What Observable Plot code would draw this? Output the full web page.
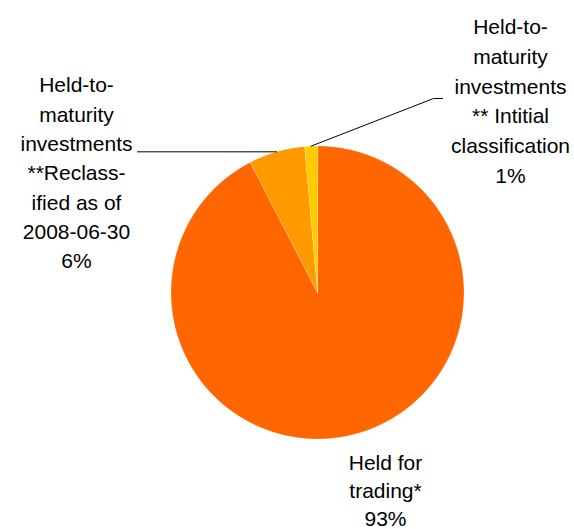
<!DOCTYPE html>
<html><head><meta charset="utf-8">
<script src="https://cdn.jsdelivr.net/npm/d3@7"></script>
<script src="https://cdn.jsdelivr.net/npm/@observablehq/plot@0.6"></script>
<style>body{margin:0;background:#fff;overflow:hidden}</style>
</head><body><div id="chart"></div>
<script>
// ---- data ----
const categories = [
  "Held for trading*",
  "Held-to-maturity investments **Reclassified as of 2008-06-30",
  "Held-to-maturity investments ** Intitial classification"
];
const shares = [92.4, 6.2, 1.4];
const percentLabels = ["93%", "6%", "1%"];
const labelLines = [
  ["Held for", "trading*"],
  ["Held-to-", "maturity", "investments", "**Reclass-", "ified as of", "2008-06-30"],
  ["Held-to-", "maturity", "investments", "** Intitial", "classification"]
];
const colors = ["#FF6600", "#FF9900", "#FFCC00"];

// ---- layout (pixels) ----
const W = 574, H = 529, CX = 317, CY = 292, R = 146.5;
const u = px => (px - CX) / R;
const v = py => (CY - py) / R;
const labelLayout = [
  {x: 385, y: 449, lh: 28.2, leader: null},
  {x: 76, y: 71, lh: 29.3, leader: [[137, null]]},
  {x: 510, y: 12, lh: 29.9, leader: [[433, 98], [442, 98]]}
];

const pie = d3.pie().sort(null).value(d => d)(shares);

const slicePts = [];
pie.forEach((a, i) => {
  slicePts.push({x: 0, y: 0, k: i, color: colors[i]});
  const n = Math.max(4, Math.ceil((a.endAngle - a.startAngle) / 0.005));
  for (let j = 0; j <= n; j++) {
    const t = a.startAngle + (a.endAngle - a.startAngle) * j / n;
    slicePts.push({x: Math.sin(t), y: Math.cos(t), k: i, color: colors[i]});
  }
});

const leaderPts = [];
pie.forEach((a, i) => {
  const L = labelLayout[i];
  if (!L.leader) return;
  const m = (a.startAngle + a.endAngle) / 2;
  const sx = Math.sin(m), sy = Math.cos(m);
  leaderPts.push({x: sx, y: sy, k: i});
  L.leader.forEach(([px, py]) => {
    leaderPts.push({x: u(px), y: py == null ? sy : v(py), k: i});
  });
});

const labels = categories.map((c, i) => ({
  text: labelLines[i].concat([percentLabels[i]]).join("\n"),
  x: u(labelLayout[i].x),
  y: v(labelLayout[i].y),
  lh: labelLayout[i].lh
}));

const chart = Plot.plot({
  width: W, height: H, margin: 0,
  style: {fontFamily: "'Liberation Sans', Arial, sans-serif", background: "#fff"},
  x: {domain: [u(0), u(W)], axis: null},
  y: {domain: [v(H), v(0)], axis: null},
  color: {type: "identity"},
  marks: [
    Plot.line(slicePts, {x: "x", y: "y", z: "k", fill: "color", stroke: "#fff", strokeWidth: 0.4, strokeOpacity: 0.6, curve: "linear-closed"}),
    Plot.line(leaderPts, {x: "x", y: "y", z: "k", stroke: "#000", strokeWidth: 1}),
    ...labels.map(l => Plot.text([l], {x: "x", y: "y", text: "text", lineAnchor: "top", textAnchor: "middle", fontSize: 21, lineHeight: l.lh / 21, fill: "#000"}))
  ]
});
document.getElementById("chart").appendChild(chart);
</script>
</body></html>
